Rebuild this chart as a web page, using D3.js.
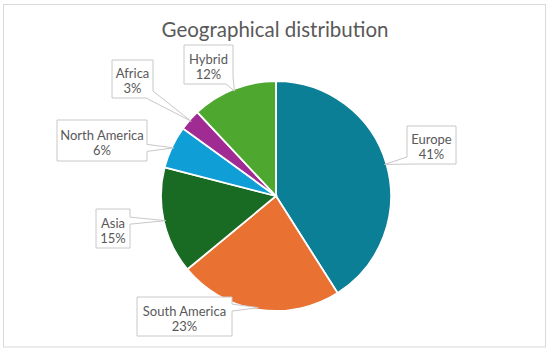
<!DOCTYPE html>
<html><head><meta charset="utf-8">
<script src="https://cdn.jsdelivr.net/npm/d3@7"></script>
<style>html,body{margin:0;padding:0;background:#fff;}</style>
</head><body>
<svg id="c" width="550" height="352"></svg>
<script>
const categories = ["Europe","South America","Asia","North America","Africa","Hybrid"];
const values = [41,23,15,6,3,12];
const colors = ["#0b7f96","#e97132","#196b24","#0f9ed5","#a02b93","#4ea72e"];
const title = "Geographical distribution";

// label box layout (x, y, w, h)
const boxes = [
  [407,126,49,38],
  [137,297,95,39],
  [96,209,34,39],
  [57,120,90,41],
  [112,60,41,38],
  [184,45,49,39]
];

const svg = d3.select("#c");
const cx=276, cy=196, r=115;
const font = "Lato, 'Open Sans', sans-serif";

svg.append("rect").attr("x",3.5).attr("y",4.5).attr("width",542).attr("height",342.5)
  .attr("fill","#fff").attr("stroke","#d9d9d9").attr("stroke-width",1);

svg.append("text").attr("x",275).attr("y",37).attr("text-anchor","middle")
  .attr("font-family",font).attr("font-size",20.5).attr("fill","#595959").text(title);

const data = categories.map((c,i)=>({name:c,value:values[i],color:colors[i]}));
const pie = d3.pie().value(d=>d.value).sort(null);
const arcs = pie(data);
const arc = d3.arc().innerRadius(0).outerRadius(r);
const g = svg.append("g").attr("transform",`translate(${cx},${cy})`);
g.selectAll("path").data(arcs).join("path").attr("d",arc)
  .attr("fill",d=>d.data.color).attr("stroke","#fff").attr("stroke-width",1.8);

function callout(b, ax, ay){
  const [x,y,w,h]=b; const x2=x+w, y2=y+h;
  const left = ax<x, right=ax>x2, above=ay<y, below=ay>y2;
  const ww=7;
  let pts=[[x,y],[x2,y],[x2,y2],[x,y2]];
  let p=[];
  if((right||left)&&(above||below)){
    const cxr = right?x2:x, cyr = below?y2:y;
    const sx = right?-1:1, sy = below?-1:1;
    const idx = right?(below?2:1):(below?3:0);
    for(let i=0;i<4;i++){
      if(i===idx){
        const prev = pts[(i+3)%4];
        const a = prev[0]===pts[i][0] ? [cxr, cyr+sy*ww] : [cxr+sx*ww, cyr];
        const bpt = prev[0]===pts[i][0] ? [cxr+sx*ww, cyr] : [cxr, cyr+sy*ww];
        p.push(a,[ax,ay],bpt);
      } else p.push(pts[i]);
    }
  } else if(left||right){
    const yc = Math.max(y+ww+2, Math.min(y2-ww-2, ay));
    if(right){ p=[[x,y],[x2,y],[x2,yc-ww/2],[ax,ay],[x2,yc+ww/2],[x2,y2],[x,y2]]; }
    else { p=[[x,y],[x2,y],[x2,y2],[x,y2],[x,yc+ww/2],[ax,ay],[x,yc-ww/2]]; }
  } else if(above||below){
    const xc = Math.max(x+ww+2, Math.min(x2-ww-2, ax));
    if(above){ p=[[x,y],[xc-ww/2,y],[ax,ay],[xc+ww/2,y],[x2,y],[x2,y2],[x,y2]]; }
    else { p=[[x,y],[x2,y],[x2,y2],[xc+ww/2,y2],[ax,ay],[xc-ww/2,y2],[x,y2]]; }
  } else p=pts;
  return "M"+p.map(q=>q.join(",")).join("L")+"Z";
}

const lab = svg.append("g");
arcs.forEach((a,i)=>{
  const m=(a.startAngle+a.endAngle)/2;
  const ar = r-2;
  const ax = cx + ar*Math.sin(m), ay = cy - ar*Math.cos(m);
  const b = boxes[i];
  lab.append("path").attr("d",callout(b,ax,ay)).attr("fill","#fff")
    .attr("stroke","#c8c8c8").attr("stroke-width",1);
  const tx=b[0]+b[2]/2;
  lab.append("text").attr("x",tx).attr("y",b[1]+b[3]/2-1).attr("text-anchor","middle")
    .attr("font-family",font).attr("font-size",13).attr("fill","#595959").text(a.data.name);
  lab.append("text").attr("x",tx).attr("y",b[1]+b[3]/2+14).attr("text-anchor","middle")
    .attr("font-family",font).attr("font-size",13).attr("fill","#595959").text(a.data.value+"%");
});
</script>
</body></html>
